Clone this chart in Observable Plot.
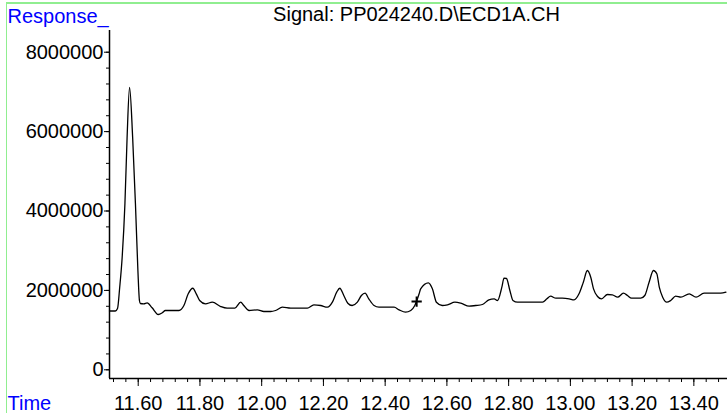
<!DOCTYPE html>
<html><head><meta charset="utf-8">
<script src="https://cdn.jsdelivr.net/npm/d3@7"></script>
<script src="https://cdn.jsdelivr.net/npm/@observablehq/plot@0.6"></script>
<style>
html,body{margin:0;padding:0;background:#fff;overflow:hidden}
#wrap{position:relative;width:727px;height:413px}
#border{position:absolute;left:5.5px;top:2px;width:800px;height:500px;border-left:1.5px solid #90ee90;border-top:2px solid #90ee90;pointer-events:none}
</style></head><body>
<div id="wrap"><div id="chart"></div><div id="border"></div></div>
<script>
const title = "Signal: PP024240.D\\ECD1A.CH";
const yLabel = "Response_";
const xLabel = "Time";

const times = [11.507, 11.526, 11.533, 11.540, 11.548, 11.557, 11.564, 11.572, 11.582, 11.591,
  11.599, 11.604, 11.607, 11.618, 11.629, 11.645, 11.665, 11.678, 11.688, 11.732,
  11.748, 11.762, 11.777, 11.788, 11.799, 11.818, 11.840, 11.867, 11.888, 11.913,
  11.932, 11.942, 11.959, 11.986, 12.007, 12.029, 12.045, 12.067, 12.094, 12.148,
  12.169, 12.191, 12.213, 12.229, 12.243, 12.253, 12.266, 12.279, 12.293, 12.310,
  12.323, 12.335, 12.347, 12.364, 12.380, 12.429, 12.445, 12.466, 12.483, 12.496,
  12.510, 12.515, 12.540, 12.553, 12.566, 12.585, 12.602, 12.626, 12.645, 12.672,
  12.693, 12.715, 12.736, 12.753, 12.764, 12.778, 12.785, 12.793, 12.804, 12.814,
  12.829, 12.910, 12.924, 12.936, 12.953, 12.974, 12.996, 13.012, 13.028, 13.042,
  13.055, 13.066, 13.075, 13.088, 13.101, 13.120, 13.136, 13.153, 13.172, 13.185,
  13.198, 13.228, 13.241, 13.255, 13.269, 13.280, 13.288, 13.299, 13.312, 13.325,
  13.341, 13.358, 13.385, 13.407, 13.433, 13.487, 13.504];

const responses = [1481000, 1481000, 1544000, 2073000, 2829000, 4189000, 5851000, 7111000, 5851000, 4189000,
  2501000, 1746000, 1670000, 1662000, 1688000, 1562000, 1393000, 1436000, 1494000, 1494000,
  1620000, 1914000, 2055000, 1914000, 1746000, 1662000, 1703000, 1594000, 1552000, 1552000,
  1703000, 1620000, 1494000, 1511000, 1469000, 1469000, 1494000, 1577000, 1552000, 1552000,
  1637000, 1620000, 1577000, 1703000, 1955000, 2055000, 1872000, 1678000, 1620000, 1703000,
  1872000, 1930000, 1788000, 1620000, 1577000, 1577000, 1511000, 1451000, 1494000, 1620000,
  1914000, 2040000, 2191000, 2040000, 1703000, 1620000, 1637000, 1703000, 1678000, 1602000,
  1620000, 1645000, 1763000, 1788000, 1746000, 2081000, 2307000, 2300000, 1998000, 1746000,
  1703000, 1703000, 1788000, 1854000, 1804000, 1804000, 1788000, 1763000, 1914000, 2207000,
  2501000, 2333000, 2040000, 1846000, 1788000, 1897000, 1889000, 1829000, 1930000, 1872000,
  1804000, 1804000, 1872000, 2207000, 2501000, 2418000, 2081000, 1829000, 1703000, 1746000,
  1854000, 1829000, 1914000, 1829000, 1930000, 1930000, 1955000];

const markerTimes = [12.502];
const markerResponses = [1720000];

const xTicks = [11.6, 11.8, 12.0, 12.2, 12.4, 12.6, 12.8, 13.0, 13.2, 13.4];
const yTicks = [0, 2000000, 4000000, 6000000, 8000000];

const xDomain = [11.507, 13.509];
const yDomain = [-219000, 8547000];
const xMinor = d3.range(11.52, 13.50, 0.04);
const yMinor = d3.range(0, 8000001, 400000);

const rows = times.map((t, i) => ({t, v: responses[i]}));
const markers = markerTimes.map((t, i) => ({t, v: markerResponses[i]}));

const font = "'Liberation Sans', Arial, Helvetica, sans-serif";

const chart = Plot.plot({
  width: 727, height: 413,
  marginLeft: 109, marginRight: 0, marginTop: 30, marginBottom: 35,
  style: {fontFamily: font, fontSize: "20px", color: "#000", background: "#fff", overflow: "visible"},
  x: {domain: xDomain, label: null},
  y: {domain: yDomain, label: null},
  marks: [
    Plot.axisX({ticks: xMinor, tickSize: 4, tickFormat: () => "", label: null, strokeWidth: 1}),
    Plot.axisX({ticks: xTicks, tickSize: 8, tickPadding: 9, tickFormat: d3.format(".2f"), fontSize: 20, label: null, strokeWidth: 1}),
    Plot.axisY({ticks: yMinor, tickSize: 3, tickFormat: () => "", label: null, strokeWidth: 1}),
    Plot.axisY({ticks: yTicks, tickSize: 5, tickPadding: 1, tickFormat: d3.format("d"), fontSize: 20, label: null, strokeWidth: 1}),
    Plot.ruleY([yDomain[0]], {stroke: "#000", strokeWidth: 1.5}),
    Plot.ruleX([xDomain[0]], {stroke: "#000", strokeWidth: 1.5}),
    Plot.line(rows, {x: "t", y: "v", curve: "monotone-x", stroke: "#000", strokeWidth: 1.3}),
    Plot.dot(markers, {x: "t", y: "v", symbol: "plus", r: 3.4, stroke: "#000", strokeWidth: 2}),
    Plot.text([title], {frameAnchor: "top", dx: -2, dy: -24, lineAnchor: "top", fontSize: 20, fill: "#000"}),
    Plot.text([yLabel], {frameAnchor: "top-left", dx: -102, dy: -22, lineAnchor: "top", textAnchor: "start", fontSize: 20, fill: "#0000ff"}),
    Plot.text([xLabel], {frameAnchor: "bottom-left", dx: -102, dy: 17, lineAnchor: "top", textAnchor: "start", fontSize: 20, fill: "#0000ff"})
  ]
});
document.getElementById("chart").appendChild(chart);
</script>
</body></html>
